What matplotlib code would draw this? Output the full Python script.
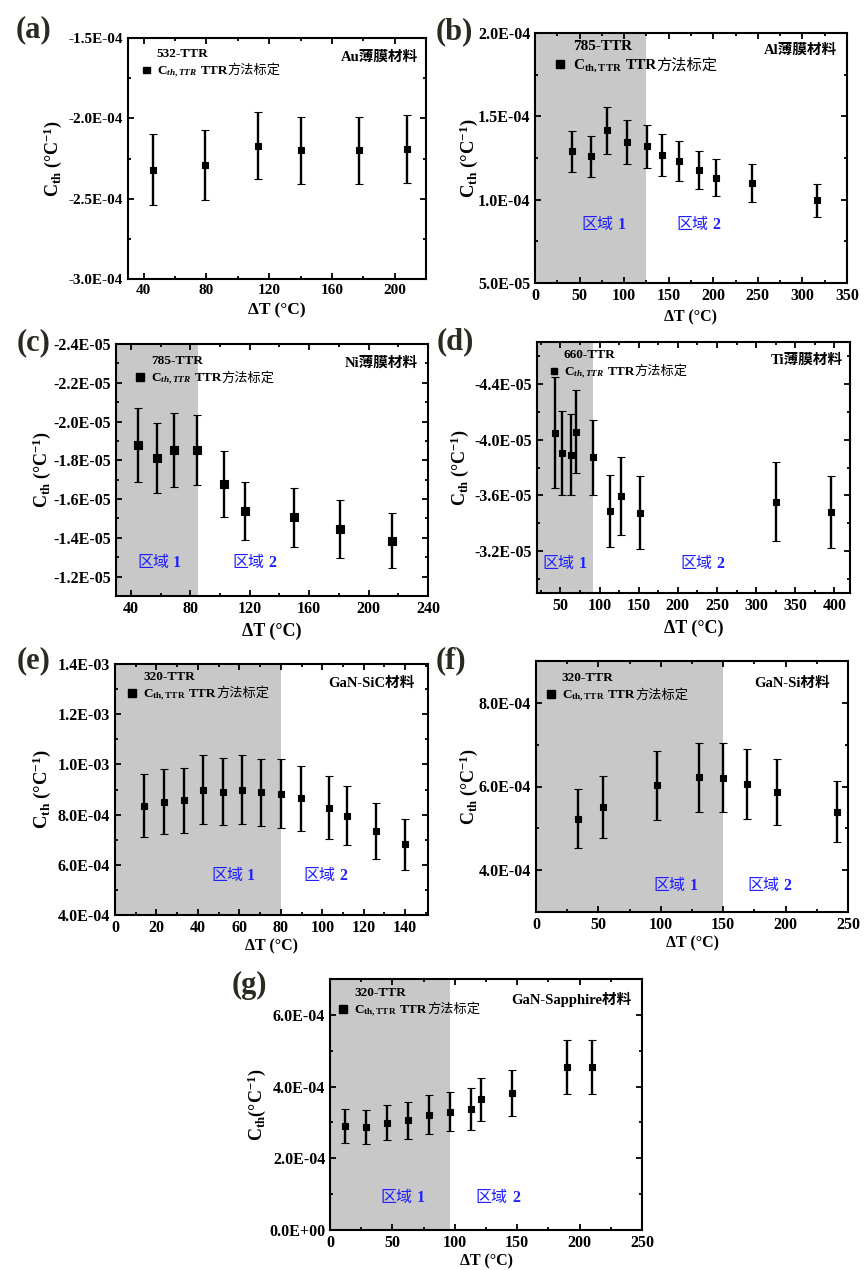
import matplotlib
matplotlib.use("Agg")
import matplotlib.pyplot as plt
import numpy as np
from matplotlib.ticker import MultipleLocator, AutoMinorLocator, FuncFormatter
from matplotlib.offsetbox import (TextArea, HPacker, VPacker, DrawingArea,
                                  AnchoredOffsetbox, AnnotationBbox)
from matplotlib.patches import Rectangle

plt.rcParams.update({
    "font.family":       ["Liberation Serif", "Noto Sans CJK SC"],
    "font.weight":       "bold",
    "axes.labelweight":  "bold",
    "axes.unicode_minus": False,
    "axes.linewidth":    1.5,
    "mathtext.fontset":  "custom",
    "mathtext.rm":       "Liberation Serif:bold",
    "mathtext.it":       "Liberation Serif:italic:bold",
    "mathtext.bf":       "Liberation Serif:bold",
})

# ---------------------------------------------------------------------------
# Data (dT in °C, C_th in 1/°C, symmetric error)
# ---------------------------------------------------------------------------
a_dT  = [46, 79, 113, 140, 177, 208]
a_cth = np.array([-2.32, -2.29, -2.17, -2.20, -2.20, -2.19]) * 1e-4
a_err = np.array([0.22, 0.22, 0.21, 0.21, 0.21, 0.21]) * 1e-4

b_dT  = [41.6, 63, 81, 103.5, 125.3, 142.5, 161.7, 184.2, 202.5, 243, 316.6]
b_cth = np.array([1.29, 1.26, 1.416, 1.346, 1.32, 1.268, 1.232, 1.18, 1.132, 1.10, 0.996]) * 1e-4
b_err = np.array([1.25, 1.24, 1.42, 1.34, 1.30, 1.24, 1.20, 1.14, 1.12, 1.12, 0.98]) * 1e-5

c_dT  = [44.9, 57.4, 69, 84.5, 102.8, 117, 149.5, 180.6, 215.9]
c_cth = np.array([-1.878, -1.812, -1.853, -1.853, -1.679, -1.540, -1.505, -1.447, -1.386]) * 1e-5
c_err = np.array([0.19, 0.18, 0.19, 0.18, 0.17, 0.15, 0.15, 0.15, 0.14]) * 1e-5

d_dT  = [42.7, 52.1, 62.9, 69.7, 91.1, 113.8, 127.1, 151.5, 325.9, 395.3]
d_cth = np.array([-4.05, -3.905, -3.893, -4.058, -3.873, -3.488, -3.594, -3.476, -3.556, -3.481]) * 1e-5
d_err = np.array([0.40, 0.30, 0.29, 0.30, 0.27, 0.26, 0.28, 0.26, 0.28, 0.26]) * 1e-5

e_dT  = [14, 23.5, 33.1, 42.4, 51.9, 61.1, 70.6, 80, 89.7, 103.1, 112.1, 126.1, 140]
e_cth = np.array([0.835, 0.851, 0.857, 0.900, 0.891, 0.900, 0.889, 0.884, 0.865, 0.827,
                  0.796, 0.735, 0.681]) * 1e-3
e_err = np.array([0.126, 0.13, 0.13, 0.136, 0.134, 0.136, 0.134, 0.136, 0.13, 0.125,
                  0.118, 0.11, 0.102]) * 1e-3

f_dT  = [33.9, 53.4, 97, 130.3, 149.8, 169.3, 193.4, 241.5]
f_cth = np.array([5.23, 5.52, 6.03, 6.22, 6.21, 6.06, 5.86, 5.40]) * 1e-4
f_err = np.array([0.70, 0.74, 0.82, 0.83, 0.83, 0.83, 0.79, 0.73]) * 1e-4

g_dT  = [11.8, 28.6, 45.7, 62.6, 79.7, 96.3, 112.8, 121.1, 146, 189.8, 209.6]
g_cth = np.array([2.90, 2.87, 2.99, 3.06, 3.22, 3.30, 3.37, 3.64, 3.82, 4.55, 4.55]) * 1e-4
g_err = np.array([0.47, 0.47, 0.49, 0.51, 0.54, 0.54, 0.58, 0.60, 0.63, 0.76, 0.76]) * 1e-4

W, H = 864, 1270
REGION_C = "#1f1fff"
SHADE_C  = "#c8c8c8"
LABEL_C  = "#2a2a20"


def add_axes(fig, l, t, r, b):
    return fig.add_axes([l / W, 1 - b / H, (r - l) / W, (b - t) / H])


def legend_block(ax, title, sub, fs, msize, x0, y0):
    # hand-built legend: probe name on top, square marker + C_th,TTR label below
    tp = dict(fontsize=fs, fontweight="bold")
    tp_cjk = dict(fontsize=fs, fontweight="normal")
    gap = fs * 0.55
    yd = msize / 2 - fs * 0.32
    blank = DrawingArea(msize, 0.1)
    mark = DrawingArea(msize, msize, 0, yd)
    mark.add_artist(Rectangle((0, -yd), msize, msize, color="black"))
    row1 = HPacker(children=[blank, TextArea(title, textprops=tp)], sep=gap, pad=0, align="baseline")
    latin = HPacker(children=[TextArea(sub, textprops=tp), TextArea("TTR", textprops=tp)],
                    sep=fs * 0.25, pad=0, align="baseline")
    lab = HPacker(children=[latin, TextArea("方法标定", textprops=tp_cjk)],
                  sep=0, pad=0, align="baseline")
    row2 = HPacker(children=[mark, lab], sep=gap, pad=0, align="baseline")
    box = VPacker(children=[row1, row2], sep=fs * 0.3, pad=0, align="left")
    ab = AnchoredOffsetbox(loc="upper left", child=box, pad=0, borderpad=0, frameon=False,
                           bbox_to_anchor=(x0, y0), bbox_transform=ax.transAxes)
    ax.add_artist(ab)


def region_label(ax, x, y, num):
    word = TextArea("区域", textprops=dict(fontsize=11.5, fontweight="normal", color=REGION_C))
    digit = TextArea(num, textprops=dict(fontsize=11.5, fontweight="bold", color=REGION_C))
    box = HPacker(children=[word, digit], sep=3, pad=0, align="baseline")
    ab = AnnotationBbox(box, (x, y), xycoords="data", frameon=False, pad=0,
                        box_alignment=(0.5, 0.5), zorder=4)
    ax.add_artist(ab)


def panel(fig, box, tag, tag_xy, dT, cth, err, xlim, xstep, ylim, ystep,
          probe, sub, material, mat_xy, leg_xy, leg_fs=9.5, leg_ms=5.5,
          shade=None, regions=None, ms=5, tick_fs=11.5, xl_fs=11.5, yl_fs=13,
          yl_dx=72, xl_pad=2, ylabel=r"C$_{\mathrm{th}}$ (°C$^{\mathrm{-1}}$)"):
    ax = add_axes(fig, *box)
    wpx = box[2] - box[0]

    if shade is not None:
        ax.axvspan(xlim[0], shade, color=SHADE_C, lw=0, zorder=0)

    ax.errorbar(dT, cth, yerr=err, fmt="s", color="black", ms=ms, mew=0.8,
                elinewidth=1.7, capsize=3, capthick=1.6, zorder=3)

    ax.set_xlim(*xlim)
    ax.set_ylim(*ylim)
    ax.xaxis.set_major_locator(MultipleLocator(xstep))
    ax.yaxis.set_major_locator(MultipleLocator(ystep))
    ax.xaxis.set_minor_locator(AutoMinorLocator(2))
    ax.yaxis.set_minor_locator(AutoMinorLocator(2))
    ax.yaxis.set_major_formatter(FuncFormatter(lambda v, p: f"{v:.1E}"))
    ax.tick_params(which="both", direction="in", top=True, right=True, width=1.3,
                   labelsize=tick_fs)
    ax.tick_params(which="major", length=4.5)
    ax.tick_params(which="minor", length=2.5)

    ax.set_xlabel("ΔT (°C)", fontsize=xl_fs, labelpad=xl_pad)
    ax.set_ylabel(ylabel, fontsize=yl_fs)
    ax.yaxis.set_label_coords(-(yl_dx - 11) / wpx, 0.5)

    if regions is not None:
        for (rx, ry), num in zip(regions, ["1", "2"]):
            region_label(ax, rx, ry, num)

    ax.text(mat_xy[0], mat_xy[1], material, transform=ax.transAxes, fontsize=10.5,
            fontweight="bold", ha="right", va="center")
    legend_block(ax, probe, sub, leg_fs, leg_ms, *leg_xy)

    fig.text(tag_xy[0] / W, 1 - tag_xy[1] / H, tag, fontsize=22, fontweight="bold",
             color=LABEL_C, ha="left", va="center")
    return ax


SUB_IT = r"C$_{th,TTR}$"
SUB_RM = r"C$_{\mathrm{th,TTR}}$"

fig = plt.figure(figsize=(W / 100, H / 100), dpi=100)

panel(fig, (128, 38, 426, 279), "(a)", (16, 30), a_dT, a_cth, a_err,
      (30, 220), 40, (-3.0e-4, -1.5e-4), 0.5e-4,
      "532-TTR", SUB_IT, "Au薄膜材料", (0.973, 0.921), (0.049, 0.958),
      leg_fs=9.5, leg_ms=5, tick_fs=11, xl_fs=12.5, yl_dx=75, xl_pad=4)

panel(fig, (535, 33, 847, 283), "(b)", (436, 32), b_dT, b_cth, b_err,
      (0, 350), 50, (5e-5, 2e-4), 5e-5,
      "785-TTR", SUB_RM, "Al薄膜材料", (0.968, 0.932), (0.067, 0.972),
      leg_fs=11, leg_ms=6, shade=125, regions=[(77, 0.85e-4), (183, 0.85e-4)],
      yl_fs=13.5, yl_dx=66, xl_pad=4)

panel(fig, (116, 344, 428, 596), "(c)", (17, 343), c_dT, c_cth, c_err,
      (30, 240), 40, (-1.1e-5, -2.4e-5), 0.2e-5,
      "785-TTR", SUB_IT, "Ni薄膜材料", (0.968, 0.925), (0.064, 0.955),
      leg_ms=5.5, shade=85, regions=[(59, -1.272e-5), (123, -1.272e-5)],
      ms=6, xl_fs=13, yl_dx=74, xl_pad=4)

panel(fig, (537, 342, 850, 593), "(d)", (437, 342), d_dT, d_cth, d_err,
      (20, 420), 50, (-2.9e-5, -4.7e-5), 0.4e-5,
      "660-TTR", SUB_IT, "Ti薄膜材料", (0.978, 0.928), (0.045, 0.972),
      leg_ms=4, shade=92, regions=[(55, -3.106e-5), (231, -3.106e-5)],
      xl_fs=13, yl_dx=77, xl_pad=4)

panel(fig, (115, 664, 428, 915), "(e)", (17, 661), e_dT, e_cth, e_err,
      (0, 151), 20, (4e-4, 1.4e-3), 2e-4,
      "320-TTR", SUB_RM, "GaN-SiC材料", (0.958, 0.924), (0.042, 0.972),
      shade=80, regions=[(57, 5.56e-4), (101.5, 5.56e-4)], yl_fs=13.5, yl_dx=73)

panel(fig, (536, 661, 848, 912), "(f)", (436, 661), f_dT, f_cth, f_err,
      (0, 250), 50, (3e-4, 9e-4), 2e-4,
      "320-TTR", SUB_RM, "GaN-Si材料", (0.942, 0.912), (0.035, 0.955),
      shade=150, regions=[(111.6, 3.63e-4), (187, 3.63e-4)], yl_dx=67)

panel(fig, (330, 979, 642, 1230), "(g)", (232, 985), g_dT, g_cth, g_err,
      (0, 250), 50, (0, 7e-4), 2e-4,
      "320-TTR", SUB_RM, "GaN-Sapphire材料", (0.965, 0.92), (0.03, 0.968),
      shade=96, regions=[(58.3, 0.895e-4), (134.5, 0.895e-4)], yl_dx=73,
      ylabel=r"C$_{\mathrm{th}}$(°C$^{\mathrm{-1}}$)")

fig.savefig("out.png", dpi=100)
